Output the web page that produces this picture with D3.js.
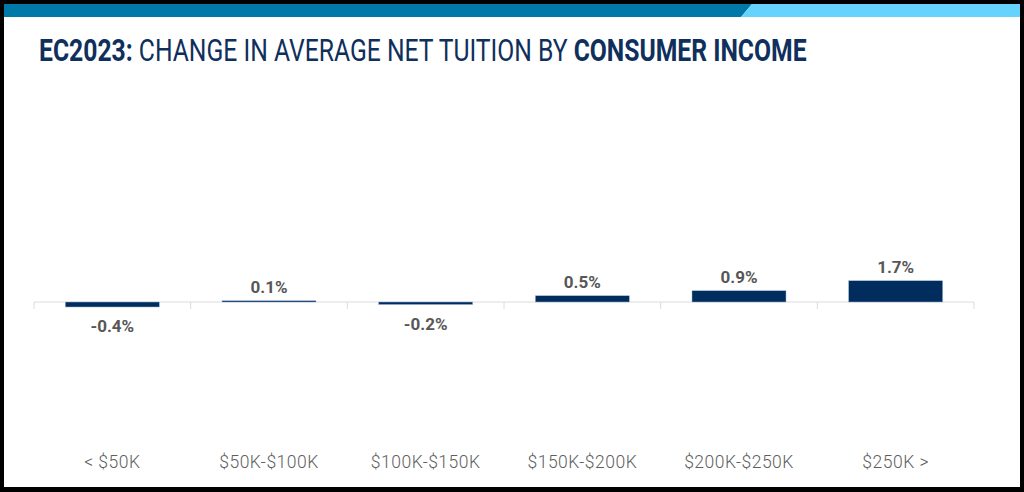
<!DOCTYPE html>
<html>
<head>
<meta charset="utf-8">
<script src="https://cdn.jsdelivr.net/npm/d3@7"></script>
<style>
  html, body { margin: 0; padding: 0; background: #000; }
  svg { display: block; }
</style>
</head>
<body>
<svg id="chart" width="1024" height="492"></svg>
<script>
const categories = ['< $50K', '$50K-$100K', '$100K-$150K', '$150K-$200K', '$200K-$250K', '$250K >'];
const values = [-0.4, 0.1, -0.2, 0.5, 0.9, 1.7];
const valueLabels = ['-0.4%', '0.1%', '-0.2%', '0.5%', '0.9%', '1.7%'];

const svg = d3.select('#chart');

// ==================
// Frame + header band
// ==================
svg.append('rect').attr('x', 4).attr('y', 4).attr('width', 1016).attr('height', 483).attr('fill', '#fff');
svg.append('path').attr('d', 'M4,4 L752,4 L741,17 L4,17 Z').attr('fill', '#0079A8');
svg.append('path').attr('d', 'M752,4 L1020,4 L1020,17 L741,17 Z').attr('fill', '#66D3FF');

// title, squeezed to look like the condensed face of the original
const title = svg.append('g');
const titleText = title.append('text')
  .attr('font-family', 'Roboto, "DejaVu Sans", sans-serif')
  .attr('font-size', 31)
  .attr('fill', '#0F2F5C');
titleText.append('tspan').attr('font-weight', 700).text('EC2023:');
titleText.append('tspan').attr('font-weight', 400).text(' CHANGE IN AVERAGE NET TUITION BY ');
titleText.append('tspan').attr('font-weight', 700).text('CONSUMER INCOME');
const titleW = titleText.node().getComputedTextLength();
title.attr('transform', `translate(39,61) scale(${768 / titleW},1)`);

// ==================
// Scales
// ==================
const MARGIN_LEFT = 34;
const MARGIN_RIGHT = 974;

const x = d3.scaleBand()
  .domain(categories)
  .range([MARGIN_LEFT, MARGIN_RIGHT])
  .paddingInner(0.4)
  .paddingOuter(0.2);

const y = d3.scaleLinear()
  .domain([-8, 18])
  .range([402, 77]);

const y0 = y(0);

// baseline + boundary ticks
const axisG = svg.append('g');
axisG.append('line')
  .attr('x1', MARGIN_LEFT).attr('x2', MARGIN_RIGHT)
  .attr('y1', y0).attr('y2', y0)
  .attr('stroke', '#DCDCDC').attr('stroke-width', 1);
axisG.selectAll('line.tick')
  .data(d3.range(categories.length + 1))
  .join('line')
  .attr('class', 'tick')
  .attr('x1', i => MARGIN_LEFT + i * x.step())
  .attr('x2', i => MARGIN_LEFT + i * x.step())
  .attr('y1', y0).attr('y2', y0 + 7)
  .attr('stroke', '#DCDCDC').attr('stroke-width', 1);

// bars
svg.append('g').selectAll('rect')
  .data(values)
  .join('rect')
  .attr('x', (d, i) => x(categories[i]))
  .attr('width', x.bandwidth())
  .attr('y', d => Math.min(y(d), y0))
  .attr('height', d => Math.abs(y(d) - y0))
  .attr('fill', '#002C5E')
  .attr('stroke', '#9DB3CF')
  .attr('stroke-width', 0.5);

// value labels
svg.append('g').selectAll('text')
  .data(values)
  .join('text')
  .attr('x', (d, i) => x(categories[i]) + x.bandwidth() / 2)
  .attr('y', d => d >= 0 ? y(d) - 8 : y(d) + 25)
  .attr('text-anchor', 'middle')
  .attr('font-family', 'Roboto, "DejaVu Sans", sans-serif')
  .attr('font-weight', 700)
  .attr('font-size', 17)
  .attr('fill', '#575757')
  .text((d, i) => valueLabels[i]);

// category axis
const xAxis = d3.axisBottom(x).tickSize(0).tickPadding(0);
const xAxisG = svg.append('g')
  .attr('transform', 'translate(0,456)')
  .call(xAxis);
xAxisG.select('.domain').remove();
xAxisG.selectAll('.tick text')
  .attr('font-family', 'Roboto, "DejaVu Sans", sans-serif')
  .attr('font-weight', 300)
  .attr('font-size', 17.5)
  .attr('letter-spacing', 0.5)
  .attr('fill', '#5E5E5E')
  .attr('dy', 0)
  .attr('y', 12);
</script>
</body>
</html>
